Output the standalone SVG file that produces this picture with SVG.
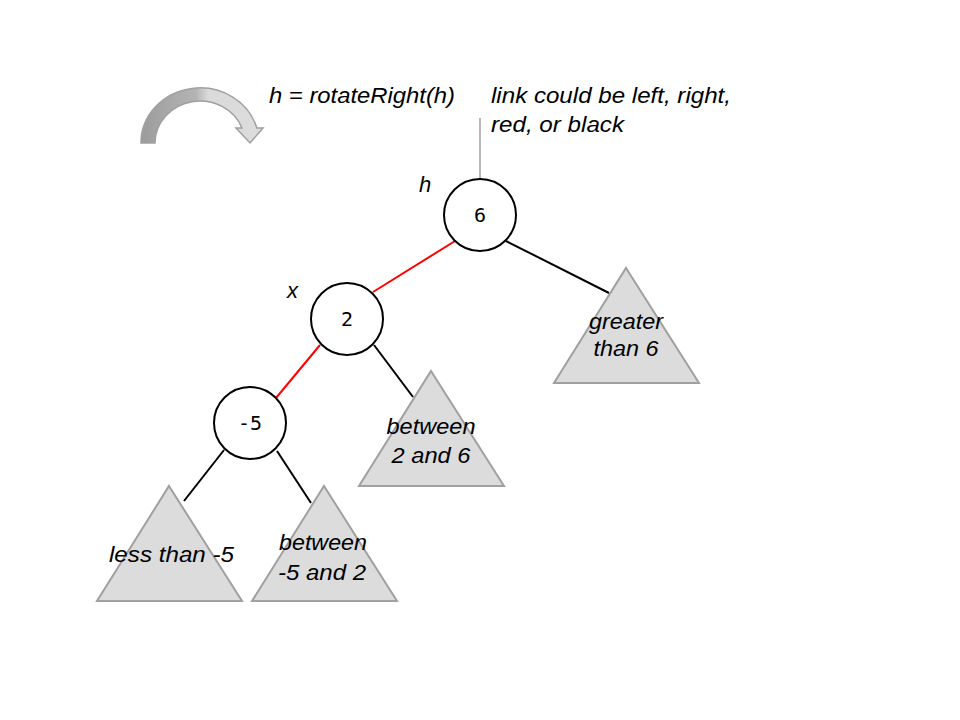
<svg xmlns="http://www.w3.org/2000/svg" width="960" height="720" viewBox="0 0 960 720">
<style>
.t{font-family:"Liberation Sans",Arial,sans-serif;font-style:italic;font-size:22px;fill:#000}
.tc{text-anchor:middle}
.n{font-family:"DejaVu Sans Mono","Liberation Mono",monospace;font-size:20px;text-anchor:middle;fill:#000}
.c{fill:#fff;stroke:#000;stroke-width:2}
.tri{fill:#dcdcdc;stroke:#a0a0a0;stroke-width:2}
.red{stroke:#ff0000;stroke-width:2}
.blk{stroke:#000;stroke-width:2}
</style>
<defs>
<linearGradient id="ag" x1="141" y1="0" x2="263" y2="0" gradientUnits="userSpaceOnUse">
<stop offset="0" stop-color="#9c9c9c"/>
<stop offset="0.45" stop-color="#b4b4b4"/>
<stop offset="0.55" stop-color="#dadada"/>
<stop offset="1" stop-color="#dcdcdc"/>
</linearGradient>
</defs>
<rect width="960" height="720" fill="#fff"/>
<g id="rotate-arrow">
<path d="M141,143 A59,55 0 0 1 256.8,128 L263,128 L250,143 L236,128 L242,128 A45,42 0 0 0 155,143 Z" fill="url(#ag)" stroke="#a0a0a0" stroke-width="1.5"/>
</g>
<g id="labels">
<text class="t" x="269" y="103" textLength="186" lengthAdjust="spacingAndGlyphs">h = rotateRight(h)</text>
<text class="t" x="491" y="103" textLength="240" lengthAdjust="spacingAndGlyphs">link could be left, right,</text>
<text class="t" x="491" y="132" textLength="133" lengthAdjust="spacingAndGlyphs">red, or black</text>
<text class="t" x="419" y="192">h</text>
<text class="t" x="287" y="298">x</text>
</g>
<g id="connectors">
<line x1="480" y1="118" x2="480" y2="179" stroke="#a0a0a0" stroke-width="1.5"/>
<line class="red" x1="455" y1="241" x2="373" y2="292"/>
<line class="blk" x1="506" y1="241" x2="609" y2="293"/>
<line class="red" x1="320" y1="345" x2="276" y2="398"/>
<line class="blk" x1="374" y1="345" x2="413" y2="397"/>
<line class="blk" x1="224" y1="450" x2="184" y2="501"/>
<line class="blk" x1="277" y1="451" x2="311" y2="503"/>
</g>
<g id="node-6"><circle class="c" cx="480" cy="215" r="36"/><text class="n" x="480" y="222">6</text></g>
<g id="node-2"><circle class="c" cx="347" cy="319" r="36"/><text class="n" x="347" y="326">2</text></g>
<g id="node-m5"><circle class="c" cx="250" cy="423" r="36"/><text class="n" x="250" y="430">-5</text></g>
<g id="tri-greater6"><polygon class="tri" points="626,268 699,383 554,383"/>
<text class="t tc" x="626" y="329" textLength="74" lengthAdjust="spacingAndGlyphs">greater</text><text class="t tc" x="626" y="356" textLength="65" lengthAdjust="spacingAndGlyphs">than 6</text></g>
<g id="tri-between2and6"><polygon class="tri" points="431,371 504,486 359,486"/>
<text class="t tc" x="431" y="434" textLength="89" lengthAdjust="spacingAndGlyphs">between</text><text class="t tc" x="431" y="463" textLength="79" lengthAdjust="spacingAndGlyphs">2 and 6</text></g>
<g id="tri-lessm5"><polygon class="tri" points="169,486 242,601 97,601"/>
<text class="t tc" x="171.5" y="562" textLength="125" lengthAdjust="spacingAndGlyphs">less than -5</text></g>
<g id="tri-betweenm5and2"><polygon class="tri" points="324,486 397,601 252,601"/>
<text class="t tc" x="323" y="550" textLength="88" lengthAdjust="spacingAndGlyphs">between</text><text class="t tc" x="322" y="580" textLength="88" lengthAdjust="spacingAndGlyphs">-5 and 2</text></g>
</svg>
